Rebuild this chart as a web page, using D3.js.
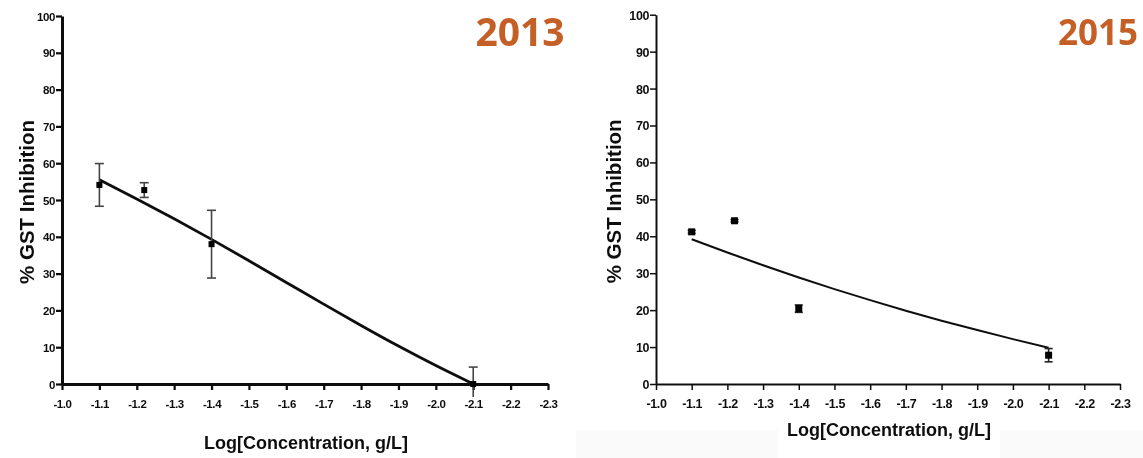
<!DOCTYPE html>
<html>
<head>
<meta charset="utf-8">
<script src="https://cdn.jsdelivr.net/npm/d3@7/dist/d3.min.js"></script>
<style>
  html, body { margin: 0; padding: 0; background: #fff; }
  svg { display: block; }
</style>
</head>
<body>
<svg id="chart" width="1143" height="458"></svg>
<script>
// Log concentration of each tested dilution (g/L)
const logConc = [-1.1, -1.22, -1.4, -2.1];

// 2013 campaign: mean % GST inhibition and its error
const inhib2013 = [54.1, 52.7, 38.0, 0.0];
const err2013   = [5.8, 2.0, 9.2, 4.6];

// 2015 campaign: mean % GST inhibition and its error
const inhib2015 = [41.2, 44.2, 20.4, 7.8];
const err2015   = [0.4, 0.3, 1.0, 1.8];

// Fitted dose-response curves, sampled along the concentration axis
const fitLogConc = [-1.1, -1.2, -1.3, -1.4, -1.5, -1.6, -1.7, -1.8, -1.9, -2.0, -2.1];
const fit2013    = [55.5, 50.3, 44.9, 39.3, 33.5, 27.6, 21.7, 15.9, 10.3, 5.0, 0.0];
const fit2015    = [39.2, 35.6, 32.15, 28.85, 25.7, 22.7, 19.85, 17.15, 14.6, 12.15, 9.8];

// Axis ticks and labels
const xTicks = d3.range(0, 14).map(i => -(10 + i) / 10);
const yTicks = d3.range(0, 11).map(i => i * 10);
const xDomain = [-1.0, -2.3];
const yDomain = [0, 100];
const yearTitles = ["2013", "2015"];
const xLabel = "Log[Concentration, g/L]";
const yLabel = "% GST Inhibition";

const svg = d3.select("#chart");

// faint strip along the lower edge of the right-hand panel
svg.append("rect").attr("x", 576).attr("y", 430).attr("width", 567).attr("height", 28).attr("fill", "#fafafa");
svg.append("rect").attr("x", 778).attr("y", 416).attr("width", 222).attr("height", 42).attr("fill", "#fff");

const panels = [
  {
    title: yearTitles[0], means: inhib2013, errs: err2013, fit: fit2013,
    left: 62, right: 548, top: 16, bottom: 384,
    axisW: 3, curveW: 2.8, tickLen: 6, tickFont: 11.5, labelGap: 16,
    errColor: "#444", errW: 1.6, cap: 4.5, marker: 6,
    title_x: 520, title_y: 30, titleSize: 39,
    yLabelX: 26, xLabelY: 443, blur: 0.55
  },
  {
    title: yearTitles[1], means: inhib2015, errs: err2015, fit: fit2015,
    left: 656, right: 1120, top: 14.7, bottom: 384,
    axisW: 2, curveW: 2, tickLen: 6, tickFont: 12.5, labelGap: 15,
    errColor: "#222", errW: 1.6, cap: 4, marker: 7,
    title_x: 1098, title_y: 31.5, titleSize: 35,
    yLabelX: 613.5, xLabelY: 430, blur: 0.45
  }
];

const defs = svg.append("defs");

panels.forEach((p, idx) => {
  const fid = "soft" + idx;
  defs.append("filter").attr("id", fid)
    .append("feGaussianBlur").attr("stdDeviation", p.blur);

  const x = d3.scaleLinear().domain(xDomain).range([p.left, p.right]);
  const y = d3.scaleLinear().domain(yDomain).range([p.bottom, p.top]);

  const g = svg.append("g").attr("filter", `url(#${fid})`);

  // x axis
  const xAxis = d3.axisBottom(x).tickValues(xTicks)
    .tickFormat(d => d.toFixed(1)).tickSizeInner(p.tickLen).tickSizeOuter(0).tickPadding(p.labelGap - p.tickLen);
  const gx = g.append("g").attr("transform", `translate(0,${p.bottom})`).call(xAxis);

  // y axis
  const yAxis = d3.axisLeft(y).tickValues(yTicks)
    .tickFormat(d3.format("d")).tickSizeInner(p.tickLen).tickSizeOuter(0).tickPadding(1);
  const gy = g.append("g").attr("transform", `translate(${p.left},0)`).call(yAxis);

  [gx, gy].forEach(ax => {
    ax.select(".domain").attr("stroke", "#111").attr("stroke-width", p.axisW);
    ax.selectAll(".tick line").attr("stroke", "#111").attr("stroke-width", p.axisW * 0.75);
    ax.selectAll(".tick text")
      .attr("fill", "#111")
      .style("font-family", "'Liberation Sans', Arial, sans-serif")
      .style("font-weight", "bold")
      .style("font-size", p.tickFont + "px")
      .style("letter-spacing", "-0.4px");
  });
  gy.selectAll(".tick text").attr("dy", "0.36em");

  // fitted curve
  const line = d3.line()
    .x((d, i) => x(fitLogConc[i]))
    .y(d => y(d))
    .curve(d3.curveMonotoneX);
  g.append("path").datum(p.fit)
    .attr("d", line)
    .attr("fill", "none")
    .attr("stroke", "#111")
    .attr("stroke-width", p.curveW)
    .attr("stroke-linejoin", "round");

  // error bars
  const clipId = "clip" + idx;
  defs.append("clipPath").attr("id", clipId)
    .append("rect").attr("x", p.left - 20).attr("y", p.top - 10)
    .attr("width", p.right - p.left + 40).attr("height", p.bottom - p.top + 23);

  const eb = g.append("g").attr("clip-path", `url(#${clipId})`)
    .attr("stroke", p.errColor).attr("stroke-width", p.errW);
  logConc.forEach((c, i) => {
    const cx = x(c);
    const yHi = y(p.means[i] + p.errs[i]);
    const yLo = y(p.means[i] - p.errs[i]);
    eb.append("line").attr("x1", cx).attr("x2", cx).attr("y1", yHi).attr("y2", yLo);
    eb.append("line").attr("x1", cx - p.cap).attr("x2", cx + p.cap).attr("y1", yHi).attr("y2", yHi);
    eb.append("line").attr("x1", cx - p.cap).attr("x2", cx + p.cap).attr("y1", yLo).attr("y2", yLo);
  });

  // data markers
  g.append("g").selectAll("rect")
    .data(p.means)
    .join("rect")
    .attr("x", (d, i) => x(logConc[i]) - p.marker / 2)
    .attr("y", d => y(d) - p.marker / 2)
    .attr("width", p.marker)
    .attr("height", p.marker)
    .attr("fill", "#000");

  // axis titles
  g.append("text")
    .attr("x", (p.left + p.right) / 2 + 1)
    .attr("y", p.xLabelY)
    .attr("text-anchor", "middle")
    .attr("dominant-baseline", "central")
    .style("font-family", "'Liberation Sans', Arial, sans-serif")
    .style("font-weight", "bold")
    .style("font-size", "18px")
    .attr("fill", "#111")
    .text(xLabel);

  g.append("text")
    .attr("transform", `translate(${p.yLabelX},${(p.top + p.bottom) / 2 + 2}) rotate(-90)`)
    .attr("text-anchor", "middle")
    .attr("dominant-baseline", "central")
    .style("font-family", "'Liberation Sans', Arial, sans-serif")
    .style("font-weight", "bold")
    .style("font-size", "20.5px")
    .attr("fill", "#111")
    .text(yLabel);

  // year title
  svg.append("text")
    .attr("x", p.title_x)
    .attr("y", p.title_y)
    .attr("text-anchor", "middle")
    .attr("dominant-baseline", "central")
    .style("font-family", "'Open Sans', sans-serif")
    .style("font-weight", "bold")
    .style("font-size", p.titleSize + "px")
    .attr("fill", "#c45f27")
    .attr("filter", `url(#${fid})`)
    .text(p.title);
});
</script>
</body>
</html>
